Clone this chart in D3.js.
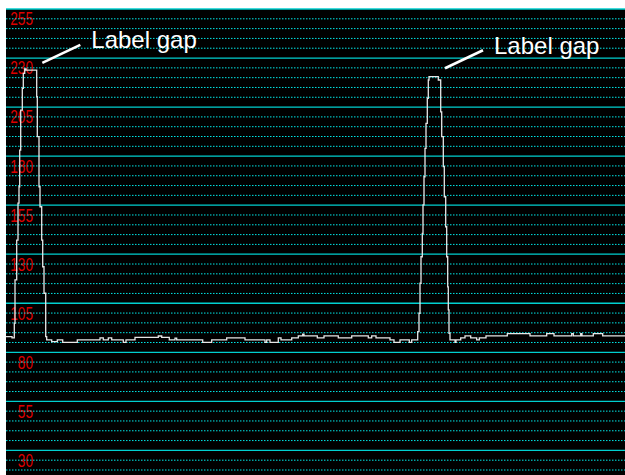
<!DOCTYPE html>
<html>
<head>
<meta charset="utf-8">
<script src="https://cdn.jsdelivr.net/npm/d3@7"></script>
<style>
  html, body { margin: 0; padding: 0; background: #ffffff; }
  svg { display: block; }
</style>
</head>
<body>
<svg id="chart" width="625" height="475"></svg>
<script>
// ---- data (sample index, value); value holds until the next sample index ----
const sampleIndex = [
  0, 6, 8.3, 9, 10.7, 12, 13, 13.7, 14.7, 16.3, 17.3, 18.7, 20,
  30.7, 31.3, 33, 34, 35.7, 36.7, 38, 39.7, 40.7,
  45.7, 51.3, 56.7, 71.3, 94, 97.3, 102.3, 105.7, 117.3, 120, 129, 152.3, 155.7,
  163.3, 169, 170.7, 196.7, 205.7, 220.7, 239, 259, 260.7, 264, 272.3, 275,
  285.7, 292.3, 296.7, 298, 311.3, 318, 332.3, 345.7, 362.3, 365.7, 370, 384,
  388, 394, 403.3, 405.7,
  411.7, 413, 414, 415, 416.3, 417, 418, 419, 420, 421.3, 422.3, 423,
  432.3, 434.7, 435.7, 437.3, 438.3, 439.7, 440.7, 441.7, 442.3, 443, 444,
  449, 450, 454.7, 459, 464.7, 470.7, 473.3, 480, 501.3, 524, 540.7, 548,
  565.7, 567.3, 574.7, 576, 587.3, 596.7, 619
];
const sampleValue = [
  93.0, 92.4, 99.8, 121.9, 142.2, 161.0, 169.4, 188.1, 208.5, 219.6, 227.2, 229.5, 228.8,
  215.3, 194.9, 169.4, 159.2, 142.2, 128.6, 115.1, 93.0, 91.3,
  90.4, 91.3, 90.1, 91.3, 92.4, 91.3, 92.4, 91.3, 90.1, 91.3, 92.6, 93.3, 92.6,
  91.3, 92.2, 91.3, 90.1, 91.3, 92.4, 91.3, 90.1, 91.3, 90.1, 92.4, 91.3,
  92.4, 93.4, 94.2, 93.4, 92.4, 93.4, 92.4, 93.4, 92.4, 93.4, 92.4, 91.3,
  90.1, 91.3, 90.1, 91.3,
  95.5, 104.9, 120.2, 133.7, 145.6, 160.1, 174.5, 189.0, 201.7, 214.5, 223.8, 225.5,
  223.8, 207.6, 194.9, 179.6, 164.3, 149.0, 133.7, 118.4, 106.6, 94.7, 91.3,
  90.1, 91.3, 92.4, 93.4, 92.4, 91.3, 92.4, 93.4, 94.5, 93.4, 94.5, 93.4,
  94.5, 93.4, 94.5, 93.4, 94.5, 93.4, 93.4
];

// axis labels and grid
const tickLabels = ["255", "230", "205", "180", "155", "130", "105", "80", "55", "30"];
const solidGridValues = [260, 235, 210, 185, 160, 135, 110, 85, 60, 35];
const dottedGridValues = d3.range(255, 24, -5).filter(v => (260 - v) % 25 !== 0);

// annotations: anchor sample index and value
const annotationText = ["Label gap", "Label gap"];
const annotationIndex = [36.3, 439];
const annotationValue = [232.5, 229.8];

// ---- layout ----
const plot = { left: 6, top: 9, right: 625, bottom: 475 };

const svg = d3.select("#chart");

const x = d3.scaleLinear().domain([0, 619]).range([plot.left, plot.right]);
const y = d3.scaleLinear().domain([260, 25]).range([9, 470]);

// black plot background
svg.append("rect")
  .attr("x", plot.left).attr("y", plot.top)
  .attr("width", plot.right - plot.left).attr("height", plot.bottom - plot.top)
  .attr("fill", "#000000");

// red value labels (drawn below grid)
const labelG = svg.append("g");
tickLabels.forEach(t => {
  const v = +t;
  labelG.append("text")
    .attr("transform", `translate(33,${y(v) + 6.6}) scale(0.72,1)`)
    .attr("text-anchor", "end")
    .attr("font-family", "'Liberation Sans', Arial, sans-serif")
    .attr("font-size", 19)
    .attr("fill", "#dd0000")
    .text(t);
});

// grid lines
const gridG = svg.append("g");
gridG.selectAll("line.dotted")
  .data(dottedGridValues)
  .join("line")
  .attr("class", "dotted")
  .attr("x1", plot.left).attr("x2", plot.right)
  .attr("y1", d => y(d)).attr("y2", d => y(d))
  .attr("stroke", "#00e6e6")
  .attr("stroke-width", 1)
  .attr("stroke-dasharray", "1.5,1.5");
gridG.selectAll("line.solid")
  .data(solidGridValues)
  .join("line")
  .attr("class", "solid")
  .attr("x1", plot.left).attr("x2", plot.right)
  .attr("y1", d => y(d)).attr("y2", d => y(d))
  .attr("stroke", "#00d0d0")
  .attr("stroke-width", 1.3);

// data line
const pts = sampleIndex.map((d, i) => [d, sampleValue[i]]);
const line = d3.line()
  .x(d => x(d[0]))
  .y(d => y(d[1]))
  .curve(d3.curveStepAfter);
svg.append("path")
  .datum(pts)
  .attr("d", line)
  .attr("fill", "none")
  .attr("stroke", "#e6e6e6")
  .attr("stroke-width", 1.3);

// annotations
annotationText.forEach((t, i) => {
  const ax = x(annotationIndex[i]), ay = y(annotationValue[i]);
  svg.append("line")
    .attr("x1", ax).attr("y1", ay)
    .attr("x2", ax + 38).attr("y2", ay - 18)
    .attr("stroke", "#ffffff")
    .attr("stroke-width", 2.6);
  svg.append("text")
    .attr("x", ax + 49).attr("y", ay - 14.5)
    .attr("font-family", "'Liberation Sans', Arial, sans-serif")
    .attr("font-size", 24)
    .attr("fill", "#ffffff")
    .text(t);
});
</script>
</body>
</html>
